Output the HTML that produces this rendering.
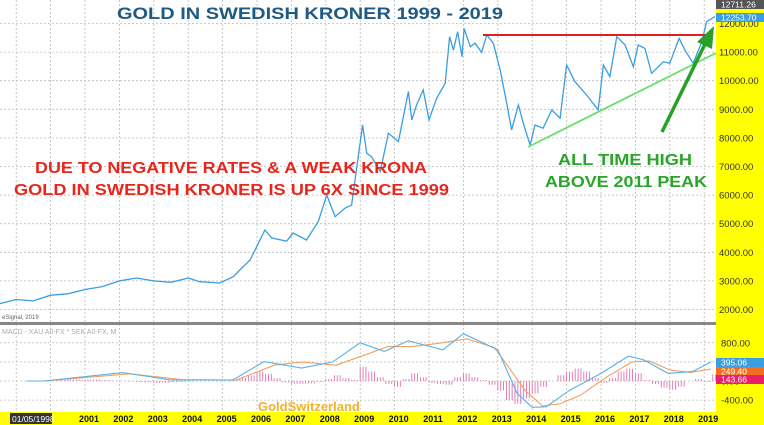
<!DOCTYPE html>
<html><head><meta charset="utf-8"><style>
html,body{margin:0;padding:0;background:#fff;}
svg{display:block;font-family:"Liberation Sans",Arial,sans-serif;}
</style></head><body>
<svg id="chart" width="764" height="425" viewBox="0 0 764 425" xmlns="http://www.w3.org/2000/svg">
<rect x="0" y="0" width="764" height="425" fill="#fff"/>
<g id="grid"></g>
<g id="price"></g>
<g id="macd"></g>
<rect x="716" y="0" width="48" height="425" fill="#ffff00"/>
<rect x="0" y="412" width="764" height="13" fill="#ffff00"/>
<g id="axes"></g>
<rect x="0" y="322" width="716" height="3" fill="#888"/>
<text x="2" y="319" font-size="6" fill="#666">eSignal, 2019</text>
<text x="2" y="334" font-size="7" fill="#aaa">MACD - XAU A0-FX * SEK A0-FX, M</text>
<text x="117" y="19" font-size="17" font-weight="bold" fill="#1d5a85" textLength="386" lengthAdjust="spacingAndGlyphs">GOLD IN SWEDISH KRONER  1999 - 2019</text>
<text x="35" y="173" font-size="16" font-weight="bold" fill="#e8261c" textLength="392" lengthAdjust="spacingAndGlyphs">DUE TO NEGATIVE RATES &amp; A WEAK KRONA</text>
<text x="14" y="195" font-size="16" font-weight="bold" fill="#e8261c" textLength="435" lengthAdjust="spacingAndGlyphs">GOLD IN SWEDISH KRONER IS UP 6X SINCE 1999</text>
<text x="558" y="165" font-size="16" font-weight="bold" fill="#2aa52a" textLength="134" lengthAdjust="spacingAndGlyphs">ALL TIME HIGH</text>
<text x="545" y="187" font-size="16" font-weight="bold" fill="#2aa52a" textLength="162" lengthAdjust="spacingAndGlyphs">ABOVE 2011 PEAK</text>
<text x="258" y="411" font-size="13" font-weight="bold" fill="#f0b428">GoldSwitzerland</text>
</svg>
<script>
const priceT=[1998.5,1999,1999.5,2000,2000.5,2001,2001.5,2002,2002.5,2003,2003.5,2004,2004.34,2004.92,2005.31,2005.5,2005.8,2006.23,2006.43,2006.86,2007.05,2007.44,2007.78,2008.03,2008.27,2008.56,2008.75,2009.07,2009.19,2009.33,2009.58,2009.82,2010.11,2010.4,2010.5,2010.64,2010.83,2011.0,2011.22,2011.47,2011.6,2011.71,2011.83,2011.96,2012.02,2012.2,2012.34,2012.53,2012.68,2012.87,2013.07,2013.26,2013.4,2013.6,2013.74,2013.94,2014.08,2014.32,2014.57,2014.81,2015.0,2015.24,2015.58,2015.92,2016.07,2016.26,2016.46,2016.7,2016.94,2017.08,2017.28,2017.47,2017.81,2018.0,2018.27,2018.44,2018.68,2018.93,2019.07,2019.31];
const priceV=[2200,2350,2300,2500,2550,2700,2800,3000,3100,3000,2950,3100,2972,2926,3147,3381,3730,4780,4500,4390,4675,4430,5070,6000,5245,5550,5650,8450,7470,7340,6820,8160,7870,9620,8630,9150,9680,8630,9380,9910,11540,11070,11710,10840,11830,11190,11310,10990,11600,11310,10370,9210,8280,9150,8510,7750,8450,8340,8980,8690,10550,9970,9500,8980,10550,10140,11540,11250,10490,11250,11130,10260,10660,10610,11480,11070,10610,11360,12060,12240];
const macdT=[1999.3,1999.8,2002.1,2003.5,2005.3,2006.2,2007.3,2008.2,2009.0,2009.7,2010.4,2011.4,2012.0,2013.0,2013.56,2014.0,2014.4,2015.1,2016.0,2016.8,2017.25,2017.95,2018.67,2019.2];
const macdV=[0,0,175,20,20,405,270,400,800,620,840,650,990,650,-260,-550,-540,-190,160,520,440,160,200,400];
const signalT=[1999.3,1999.8,2002.3,2003.8,2005.4,2006.5,2007.3,2008.3,2009.2,2009.8,2010.5,2011.2,2012.1,2012.9,2013.8,2014.3,2014.8,2015.4,2016.2,2016.9,2017.4,2018.0,2018.6,2019.2];
const signalV=[0,0,150,30,20,330,400,330,560,720,720,780,880,700,-200,-520,-480,-300,100,400,420,230,180,250];
const histStart=2000;
const histV=[10,20,30,30,30,30,20,10,0,-10,-20,-30,-40,-40,-30,-20,-10,0,0,0,0,20,60,120,200,150,60,-30,-60,-60,-50,-20,40,120,60,20,300,200,80,-60,-120,40,160,80,-40,-60,-80,80,160,80,20,-80,-200,-400,-480,-360,-260,-120,0,120,200,260,200,60,-40,60,200,260,160,20,-60,-140,-180,-120,0,40,-20,140];
const years=[2001,2002,2003,2004,2005,2006,2007,2008,2009,2010,2011,2012,2013,2014,2015,2016,2017,2018,2019];
const priceTicks=[12000,11000,10000,9000,8000,7000,6000,5000,4000,3000,2000];
const macdTicks=[800,0,-400];

const NS='http://www.w3.org/2000/svg';
const X=t=>85+(t-2001)*34.4;
const YP=v=>23.5+(12000-v)*0.0286;
const YM=v=>381-v*0.0478;
function mk(tag,parent,attrs){const e=document.createElementNS(NS,tag);for(const k in attrs)e.setAttribute(k,attrs[k]);parent.appendChild(e);return e;}
const grid=document.getElementById('grid'),price=document.getElementById('price'),macd=document.getElementById('macd'),axes=document.getElementById('axes');
for(let y=1999;y<=2019;y++){const l=mk('line',grid,{x1:X(y),x2:X(y),y1:0,y2:412,stroke:'#bbb','stroke-width':0.8,'stroke-dasharray':'2,2'});

}
for(let v=2000;v<=12000;v+=1000){const l=mk('line',grid,{x1:0,x2:716,y1:YP(v),y2:YP(v),stroke:'#bbb','stroke-width':0.8,'stroke-dasharray':'2,2'});

}
for(const v of [800,400,0,-400]){const l=mk('line',grid,{x1:0,x2:716,y1:YM(v),y2:YM(v),stroke:'#bbb','stroke-width':0.8,'stroke-dasharray':'2,2'});

}
// price
const pp=mk('polyline',price,{points:priceT.map((t,i)=>X(t).toFixed(1)+','+YP(priceV[i]).toFixed(1)).join(' '),fill:'none',stroke:'#3a9ee0','stroke-width':1.3});


const rl=mk('line',price,{x1:483,y1:35,x2:712,y2:35,stroke:'#e02020','stroke-width':2});


const gl=mk('line',price,{x1:528,y1:147,x2:716,y2:53,stroke:'#66e066','stroke-width':1.8});


const ar=mk('line',price,{x1:662,y1:132,x2:706,y2:42,stroke:'#27a027','stroke-width':3.5});


const ah=mk('polygon',price,{points:'714,26 712,49 697,42',fill:'#27a027'});


// macd
histV.forEach((v,i)=>{const t=histStart+i*0.25;for(let k=0;k<3;k++){const x=X(t+k/12);const b=mk('line',macd,{x1:x,x2:x,y1:YM(0),y2:YM(v),stroke:'#e070b0','stroke-width':0.9});

}});
const sl=mk('polyline',macd,{points:signalT.map((t,i)=>X(t).toFixed(1)+','+YM(signalV[i]).toFixed(1)).join(' '),fill:'none',stroke:'#f0a060','stroke-width':1.1});


const ml=mk('polyline',macd,{points:macdT.map((t,i)=>X(t).toFixed(1)+','+YM(macdV[i]).toFixed(1)).join(' '),fill:'none',stroke:'#5ab0e8','stroke-width':1.1});


// axes
priceTicks.forEach(v=>{const t=mk('text',axes,{x:719,y:YP(v)+3.5,'font-size':9.5,fill:'#333'});t.textContent=v.toFixed(2);

});
macdTicks.forEach(v=>{const t=mk('text',axes,{x:721,y:YM(v)+3.5,'font-size':9.5,fill:'#333'});t.textContent=v.toFixed(2);

});
years.forEach(y=>{const t=mk('text',axes,{x:X(y)+4,y:422,'font-size':9,'font-weight':'bold','text-anchor':'middle',fill:'#111'});t.textContent=y;

});
function tag(y,txt,bg,name){const r=mk('rect',axes,{x:716,y:y,width:48,height:9,fill:bg});


const t=mk('text',axes,{x:721,y:y+7.5,'font-size':8.5,fill:'#fff'});t.textContent=txt;

}
tag(0,'12711.26','#555','high-marker');
tag(13,'12253.70','#3a9ee0','last-price-marker');
tag(358,'395.06','#3a9ee0','macd-value-marker');
tag(367,'249.40','#f07020','signal-value-marker');
tag(375,'143.66','#e8206a','hist-value-marker');
const db=mk('rect',axes,{x:10,y:413,width:42,height:11,fill:'#333'});


const dt=mk('text',axes,{x:12,y:422,'font-size':8.5,fill:'#fff'});dt.textContent='01/05/1998';


</script>
</body></html>
